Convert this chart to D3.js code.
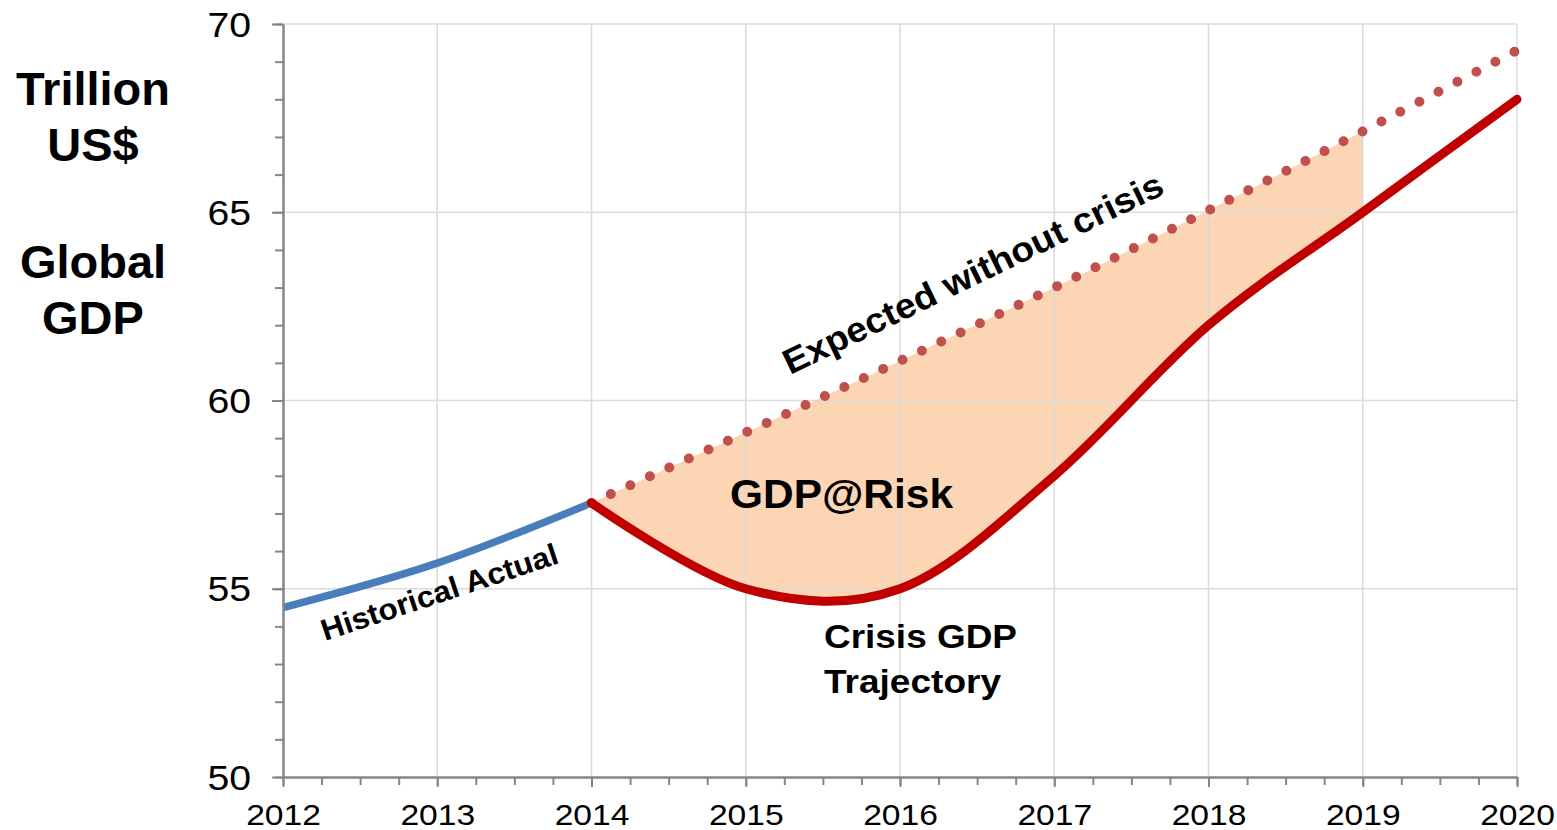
<!DOCTYPE html>
<html>
<head>
<meta charset="utf-8">
<script src="https://cdn.jsdelivr.net/npm/d3@7"></script>
<style>
  html, body { margin: 0; padding: 0; background: #fff; }
  svg { display: block; font-family: Arial, "Liberation Sans", sans-serif; }
</style>
</head>
<body>
<svg id="chart" width="1557" height="830"></svg>
<script>
// ---- data ----
const xTickYears = [2012, 2013, 2014, 2015, 2016, 2017, 2018, 2019, 2020];
const yTickValues = [50, 55, 60, 65, 70];
const historicalYears = [2012, 2013, 2014];
const historicalValues = [54.5, 55.68, 57.28];
const forecastYears = [2014, 2015, 2016, 2017, 2018, 2019, 2020];
const expectedValues = [57.28, 59.15, 61.05, 63.0, 65.05, 67.15, 69.3];
const crisisValues = [57.28, 55.0, 55.0, 58.0, 62.0, 65.0, 68.0];
const shadeEndYear = 2019;

(function () {
// ---- layout ----
const svg = d3.select("#chart");
const pLeft = 283, pRight = 1517, pTop = 24, pBottom = 777;
const x = d3.scaleLinear().domain([2012, 2020]).range([pLeft, pRight]);
const y = d3.scaleLinear().domain([50, 70]).range([pBottom, pTop]);
const curve = d3.curveCardinal.tension(0);

function stretch(sel, k) {
  sel.each(function () {
    const len = this.getComputedTextLength();
    d3.select(this).attr("textLength", len * k).attr("lengthAdjust", "spacingAndGlyphs");
  });
}

// ---- shaded area (GDP@Risk) ----
svg.append("clipPath").attr("id", "shadeClip")
  .append("rect").attr("x", x(2014)).attr("y", 0)
  .attr("width", x(shadeEndYear) - x(2014)).attr("height", 830);

const areaGen = d3.area().curve(curve)
  .x((d, i) => x(forecastYears[i]))
  .y0((d, i) => y(crisisValues[i]))
  .y1((d, i) => y(expectedValues[i]));
svg.append("path").datum(forecastYears)
  .attr("d", areaGen)
  .attr("fill", "#fcd5b5")
  .attr("clip-path", "url(#shadeClip)");

// ---- gridlines ----
const grid = svg.append("g").attr("stroke", "#d9d9d9").attr("stroke-width", 1.6).attr("opacity", 0.9);
grid.selectAll("line.h").data(yTickValues.filter(v => v > 50)).join("line")
  .attr("x1", pLeft).attr("x2", pRight).attr("y1", d => y(d)).attr("y2", d => y(d));
grid.selectAll("line.v").data(xTickYears.filter(v => v > 2012)).join("line")
  .attr("x1", d => x(d)).attr("x2", d => x(d)).attr("y1", pTop).attr("y2", pBottom);

// ---- lines ----
const lineGen = (xs) => d3.line().curve(curve).x((d, i) => x(xs[i])).y(d => y(d));

svg.append("path").datum(historicalValues)
  .attr("d", lineGen(historicalYears))
  .attr("fill", "none").attr("stroke", "#4a7ebb").attr("stroke-width", 7.5);

svg.append("path").datum(expectedValues)
  .attr("d", lineGen(forecastYears))
  .attr("fill", "none").attr("stroke", "#c0504d").attr("stroke-width", 10)
  .attr("stroke-linecap", "round").attr("stroke-dasharray", "0 21.4");

svg.append("path").datum(crisisValues)
  .attr("d", lineGen(forecastYears))
  .attr("fill", "none").attr("stroke", "#c00000").attr("stroke-width", 9)
  .attr("stroke-linecap", "round");

// ---- axes ----
const axisColor = "#868686";
const xMinor = svg.append("g").attr("transform", `translate(0,${pBottom})`)
  .call(d3.axisBottom(x).tickValues(d3.range(2012, 2020.001, 0.25)).tickSize(8).tickFormat("").tickSizeOuter(0));
const xMajor = svg.append("g").attr("transform", `translate(0,${pBottom})`)
  .call(d3.axisBottom(x).tickValues(xTickYears).tickSize(10).tickFormat(d3.format("d")).tickSizeOuter(0));
const yMinor = svg.append("g").attr("transform", `translate(${pLeft},0)`)
  .call(d3.axisLeft(y).tickValues(d3.range(50, 70.001, 1)).tickSize(8).tickFormat("").tickSizeOuter(0));
const yMajor = svg.append("g").attr("transform", `translate(${pLeft},0)`)
  .call(d3.axisLeft(y).tickValues(yTickValues).tickSize(11).tickFormat(d3.format("d")).tickSizeOuter(0));

[xMinor, xMajor, yMinor, yMajor].forEach(g => {
  g.selectAll("path.domain").attr("stroke", axisColor).attr("stroke-width", 2);
  g.selectAll(".tick line").attr("stroke", axisColor).attr("stroke-width", 2);
});
xMajor.selectAll(".tick text")
  .attr("y", 48).attr("dy", null)
  .attr("font-size", 30).attr("fill", "#000").attr("font-family", "Arial, 'Liberation Sans', sans-serif");
yMajor.selectAll(".tick text")
  .attr("x", -32).attr("dy", null).attr("y", 12)
  .attr("font-size", 35).attr("fill", "#000").attr("font-family", "Arial, 'Liberation Sans', sans-serif");
stretch(xMajor.selectAll(".tick text"), 1.12);
stretch(yMajor.selectAll(".tick text"), 1.12);

// ---- annotations ----
const bold = (t) => t.attr("font-weight", "bold").attr("fill", "#000");

svg.append("text").attr("x", 93).attr("y", 105).attr("text-anchor", "middle")
  .attr("font-size", 47).text("Trillion").call(bold);
svg.append("text").attr("x", 93).attr("y", 161).attr("text-anchor", "middle")
  .attr("font-size", 47).text("US$").call(bold);
svg.append("text").attr("x", 93).attr("y", 278).attr("text-anchor", "middle")
  .attr("font-size", 47).text("Global").call(bold);
svg.append("text").attr("x", 93).attr("y", 334).attr("text-anchor", "middle")
  .attr("font-size", 47).text("GDP").call(bold);

svg.append("text").attr("x", 730).attr("y", 508).attr("font-size", 40)
  .attr("textLength", 223).attr("lengthAdjust", "spacingAndGlyphs")
  .text("GDP@Risk").call(bold);

svg.append("text").attr("x", 824).attr("y", 648).attr("font-size", 33)
  .attr("textLength", 193).attr("lengthAdjust", "spacingAndGlyphs")
  .text("Crisis GDP").call(bold);
svg.append("text").attr("x", 824).attr("y", 693).attr("font-size", 33)
  .attr("textLength", 177).attr("lengthAdjust", "spacingAndGlyphs")
  .text("Trajectory").call(bold);

svg.append("text").attr("transform", "translate(325,641) rotate(-18.4)")
  .attr("font-size", 30)
  .attr("textLength", 248).attr("lengthAdjust", "spacingAndGlyphs")
  .text("Historical Actual").call(bold);

svg.append("text").attr("transform", "translate(790,375) rotate(-25.8)")
  .attr("font-size", 35)
  .attr("textLength", 418).attr("lengthAdjust", "spacingAndGlyphs")
  .text("Expected without crisis").call(bold);
})();
</script>
</body>
</html>
